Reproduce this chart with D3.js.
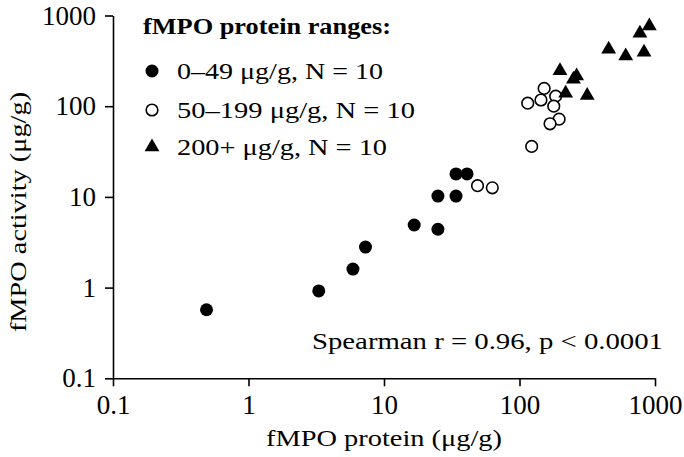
<!DOCTYPE html>
<html>
<head>
<meta charset="utf-8">
<script src="https://cdn.jsdelivr.net/npm/d3@7"></script>
<style>
  html, body { margin: 0; padding: 0; background: #fff; }
  svg { display: block; }
  text { font-family: "Liberation Serif", "DejaVu Serif", serif; fill: #000; }
</style>
</head>
<body>
<svg id="chart" width="684" height="457"></svg>
<script>
// ---- data ----
const groupNames = ["0\u201349 \u03bcg/g, N = 10", "50\u2013199 \u03bcg/g, N = 10", "200+ \u03bcg/g, N = 10"];
const lowProtein   = [0.49, 3.3, 5.9, 7.3, 16.7, 25, 25, 34, 34, 41];
const lowActivity  = [0.57, 0.92, 1.6, 2.8, 4.9, 4.4, 10.2, 10.2, 17.9, 17.9];
const midProtein   = [49, 63, 123, 115, 144, 152, 185, 179, 196, 168];
const midActivity  = [13.3, 12.6, 36, 108, 117, 157, 129, 100, 72, 64];
const highProtein  = [199, 264, 250, 219, 316, 455, 608, 830, 774, 908];
const highActivity = [246, 215, 198, 139, 131, 424, 358, 393, 637, 766];
const tickValues = [0.1, 1, 10, 100, 1000];
const tickLabels = ["0.1", "1", "10", "100", "1000"];
const xTitle = "fMPO protein (\u03bcg/g)";
const yTitle = "fMPO activity (\u03bcg/g)";
const legendTitle = "fMPO protein ranges:";
const statText = "Spearman r = 0.96, p < 0.0001";

// ---- layout ----
const svg = d3.select("#chart");
const mLeft = 113, mRight = 655, mTop = 15.5, mBottom = 378.3;

const x = d3.scaleLog().domain([0.1, 1000]).range([mLeft, mRight]);
const y = d3.scaleLog().domain([0.1, 1000]).range([mBottom, mTop]);

const fs = 24;       // body text size
const tfs = 27;      // tick label size
const stretch = 1.18; // reference face is wider than Liberation Serif

function widen(sel, target) {
  const n = sel.node();
  const w = n.getComputedTextLength();
  sel.attr("textLength", target || w * stretch).attr("lengthAdjust", "spacingAndGlyphs");
  return sel;
}

// axes
const xAxis = d3.axisBottom(x).tickValues(tickValues).tickFormat((d, i) => tickLabels[i]).tickSizeOuter(0).tickSizeInner(8).tickPadding(9);
const yAxis = d3.axisLeft(y).tickValues(tickValues).tickFormat((d, i) => tickLabels[i]).tickSizeOuter(0).tickSizeInner(8).tickPadding(9);

const gx = svg.append("g").attr("transform", `translate(0,${mBottom})`).call(xAxis);
const gy = svg.append("g").attr("transform", `translate(${mLeft},0)`).call(yAxis);
[gx, gy].forEach(g => {
  g.select(".domain").attr("stroke", "#000").attr("stroke-width", 1.6);
  g.selectAll(".tick line").attr("stroke", "#000").attr("stroke-width", 1.6);
  g.selectAll(".tick text").attr("font-family", "Liberation Serif").attr("font-size", tfs).attr("fill", "#000");
});

// axis titles
widen(svg.append("text").attr("x", (mLeft + mRight) / 2).attr("y", 446)
  .attr("text-anchor", "middle").attr("font-size", fs).text(xTitle), 236);
widen(svg.append("text").attr("transform", `translate(26,212) rotate(-90)`)
  .attr("text-anchor", "middle").attr("font-size", fs).text(yTitle));

// markers
const r = 6.5;
const tri = d3.symbol().type(d3.symbolTriangle).size(95);

function pts(xs, ys) { return xs.map((v, i) => ({ x: v, y: ys[i] })); }

svg.append("g").selectAll("circle").data(pts(lowProtein, lowActivity)).join("circle")
  .attr("cx", d => x(d.x)).attr("cy", d => y(d.y)).attr("r", r).attr("fill", "#000");

svg.append("g").selectAll("circle").data(pts(midProtein, midActivity)).join("circle")
  .attr("cx", d => x(d.x)).attr("cy", d => y(d.y)).attr("r", r - 0.7)
  .attr("fill", "#fff").attr("stroke", "#000").attr("stroke-width", 1.6);

svg.append("g").selectAll("path").data(pts(highProtein, highActivity)).join("path")
  .attr("d", tri).attr("transform", d => `translate(${x(d.x)},${y(d.y)})`).attr("fill", "#000");

// legend
widen(svg.append("text").attr("x", 143).attr("y", 34).attr("font-size", fs).attr("font-weight", "bold").text(legendTitle), 248);
const ly = [71, 110, 147];
const lw = [206, 238, 210];
const lg = svg.append("g");
lg.append("circle").attr("cx", 152).attr("cy", ly[0]).attr("r", r).attr("fill", "#000");
lg.append("circle").attr("cx", 152).attr("cy", ly[1]).attr("r", r - 0.7).attr("fill", "#fff").attr("stroke", "#000").attr("stroke-width", 1.6);
lg.append("path").attr("d", tri).attr("transform", `translate(152,${ly[2]})`).attr("fill", "#000");
groupNames.forEach((t, i) => {
  widen(lg.append("text").attr("x", 177).attr("y", ly[i] + 8).attr("font-size", fs).text(t), lw[i]);
});

// statistic
widen(svg.append("text").attr("x", 312).attr("y", 349).attr("font-size", fs).text(statText), 351);
</script>
</body>
</html>
